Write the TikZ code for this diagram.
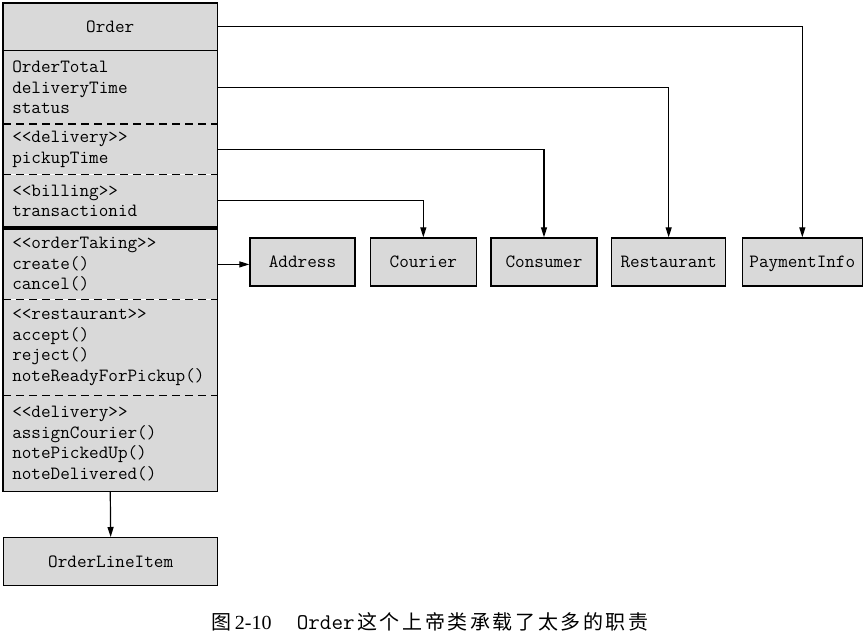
\documentclass[tikz,border=0pt]{standalone}
\usepackage{fontspec}
\setmainfont{Liberation Serif}
\newfontfamily\cjk[LetterSpace=13]{Noto Sans CJK SC}
\usetikzlibrary{arrows.meta,positioning}
\newcommand\umlfont{\ttfamily\fontsize{14}{15.4}\selectfont}
\tikzset{
  part/.style  ={fill=black!15,anchor=north west,inner xsep=6.75pt,inner ysep=0pt,
                 text width=147pt,align=left,font=\umlfont},
  cls/.style   ={draw,fill=black!15,line width=1pt,minimum height=36pt,inner sep=2pt,
                 text height=8.6pt,text depth=0pt,font=\umlfont},
  frame/.style ={line width=1pt},
  sep/.style   ={line width=0.9pt,dash pattern=on 6pt off 3.75pt},
  ar/.style    ={line width=0.9pt,-{Triangle[length=7.5pt,width=4.5pt]}},
  capt/.style  ={inner sep=0pt,font=\fontsize{15}{18}\selectfont},
}
\begin{document}
\begin{tikzpicture}[x=0.75pt,y=-0.75pt]
  \useasboundingbox (0,0) rectangle (864,635);
  % Order class, one node per compartment
  \node[part,align=center,minimum height=35.25pt] (ordHead) at (3,3) {Order};
  \node[part,minimum height=54.75pt] (ordAttr) at (ordHead.south west) {OrderTotal\\deliveryTime\\status};
  \node[part,minimum height=37.5pt] (ordDelivery) at (ordAttr.south west) {<<delivery>>\\pickupTime};
  \node[part,minimum height=39pt] (ordBilling) at (ordDelivery.south west) {<<billing>>\\transactionid};
  \node[part,minimum height=52.5pt] (ordTaking) at ([yshift=-1.5pt]ordBilling.south west) {<<orderTaking>>\\create()\\cancel()};
  \node[part,minimum height=71.25pt] (ordRestaurant) at (ordTaking.south west) {<<restaurant>>\\accept()\\reject()\\noteReadyForPickup()};
  \node[part,minimum height=72pt] (ordDeliv) at (ordRestaurant.south west) {<<delivery>>\\assignCourier()\\notePickedUp()\\noteDelivered()};
  \draw[frame] (ordHead.north west) rectangle (ordBilling.south east);
  \draw[frame] (ordTaking.north west) rectangle (ordDeliv.south east);
  \draw[frame] (ordHead.south west) -- (ordHead.south east);
  \draw[sep] (ordAttr.south west) -- (ordAttr.south east);
  \draw[sep] (ordDelivery.south west) -- (ordDelivery.south east);
  \draw[sep] (ordTaking.south west) -- (ordTaking.south east);
  \draw[sep] (ordRestaurant.south west) -- (ordRestaurant.south east);

  % classes it depends on
  \node[cls,minimum width=78.75pt] (address) at (302.5,262) {Address};
  \node[cls,minimum width=79.5pt,right=10.5pt of address] (courier) {Courier};
  \node[cls,minimum width=79.5pt,right=10pt of courier] (consumer) {Consumer};
  \node[cls,minimum width=85.5pt,right=10pt of consumer] (restaurant) {Restaurant};
  \node[cls,minimum width=90pt,right=11.5pt of restaurant] (payment) {PaymentInfo};
  \node[cls,minimum width=160.5pt,anchor=north west] (lineItem) at (3,537) {OrderLineItem};

  \draw[ar] (ordHead.east) -| (payment.north);
  \draw[ar] (ordAttr.east) -| (restaurant.north);
  \draw[ar] (ordDelivery.east) -| (consumer.north);
  \draw[ar] (ordBilling.east) -| (courier.north);
  \draw[ar] (ordTaking.east) -- (ordTaking.east -| address.west);
  \draw[ar] (ordDeliv.south) -- (lineItem.north);

  \node[capt] (caption) at (430,622) {{\cjk 图}\,2-10\hspace{19pt}{\ttfamily\fontsize{16.8}{18}\selectfont Order}\hspace{2pt}{\cjk 这个上帝类承载了太多的职责}};
\end{tikzpicture}
\end{document}
